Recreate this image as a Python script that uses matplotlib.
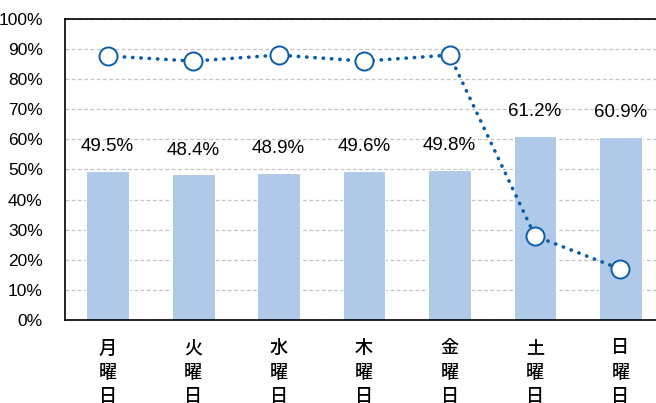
import matplotlib
matplotlib.use("Agg")
import matplotlib.pyplot as plt
from matplotlib.ticker import PercentFormatter

days = ["月曜日", "火曜日", "水曜日", "木曜日", "金曜日", "土曜日", "日曜日"]
bar_values = [49.5, 48.4, 48.9, 49.6, 49.8, 61.2, 60.9]
line_values = [87.7, 86.0, 88.0, 86.0, 88.0, 27.9, 16.9]


def main():
    plt.rcParams["font.family"] = ["Liberation Sans", "Noto Sans CJK JP", "DejaVu Sans"]

    fig = plt.figure(figsize=(6.56, 4.03), dpi=100)
    ax = fig.add_axes([0.099, 0.206, 0.912, 0.747])

    x = list(range(len(days)))
    ax.bar(x, bar_values, width=0.5, color="#afc9e9", edgecolor="white", linewidth=0.8, zorder=2)

    for xi, v in zip(x, bar_values):
        ax.text(xi, v + 8, "{:.1f}%".format(v), ha="center", va="center", fontsize=13.5, color="black")

    ax.plot(x, line_values, color="#0b5da6", linestyle=(0, (0.1, 2.2)), linewidth=2.6,
            dash_capstyle="round", marker="o", markersize=13, markerfacecolor="white",
            markeredgecolor="#0b5da6", markeredgewidth=1.4, zorder=3)

    ax.set_xlim(-0.5, 6.5)
    ax.set_ylim(0, 100)
    ax.set_yticks(range(0, 101, 10))
    ax.yaxis.set_major_formatter(PercentFormatter(decimals=0))
    ax.set_xticks(x)
    ax.set_xticklabels(["\n".join(d) for d in days], fontsize=13, linespacing=1.46,
                       family=["Noto Sans CJK JP"], fontweight="medium")
    ax.tick_params(axis="both", length=0, labelsize=12.5)
    ax.tick_params(axis="x", pad=14, labelsize=13)
    ax.tick_params(axis="y", pad=16)

    ax.grid(axis="y", color="#c4c4c4", linestyle=(0, (3, 2)), linewidth=0.9, zorder=0)
    ax.set_axisbelow(True)
    for s in ax.spines.values():
        s.set_color("black")
        s.set_linewidth(1.2)

    fig.savefig("out.png", dpi=100)


if __name__ == "__main__":
    main()
